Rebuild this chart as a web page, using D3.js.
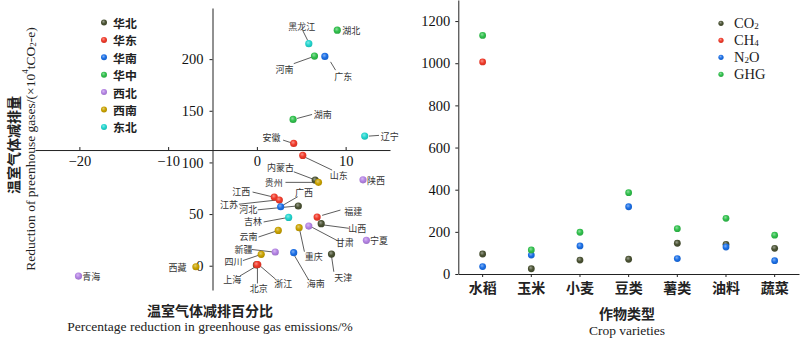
<!DOCTYPE html>
<html><head><meta charset="utf-8">
<script src="https://cdn.jsdelivr.net/npm/d3@7"></script>
<style>
body{margin:0;background:#fff;}
svg{display:block;}
.serif{font-family:"Liberation Serif","Times New Roman",serif;}
.cjk{font-family:"Noto Sans CJK SC","Noto Sans",sans-serif;}
</style></head>
<body>
<svg id="chart" width="800" height="338"></svg>
<script>
// ---------- data: left panel ----------
const regions = ["华北","华东","华南","华中","西北","西南","东北"];
const provinces = ["黑龙江","湖北","河南","广东","湖南","辽宁","安徽","山东","内蒙古","贵州","陕西","江西","江苏","广西","河北","福建","吉林","山西","甘肃","重庆","宁夏","云南","新疆","四川","海南","天津","西藏","北京","浙江","上海","青海"];
const provRegion = ["东北","华中","华中","华南","华中","东北","华东","华东","华北","西南","西北","华东","华东","华南","华北","华东","东北","华北","西北","西南","西北","西南","西北","西南","华南","华北","西南","华北","华东","华东","西北"];
const pctReduction = [5.85,9.06,6.49,7.66,4.08,12.15,4.15,5.17,6.57,6.94,11.96,1.96,2.53,2.68,4.67,6.79,3.58,7.25,5.85,4.76,12.34,2.41,2.07,0.49,4.15,8.41,-6.87,-0.05,0.1,0.0,-20.1];
const ghgReduction = [215,228,203,202.6,141.6,125.5,118.4,106.8,82.9,80.7,83.2,66.5,63.6,57.1,57.8,47.1,46.8,40.7,38.4,36.8,24.6,34.2,13.3,11.0,12.6,11.3,-1.0,0.8,1.2,1.0,-10];
const leftXTicks = [-20,-10,0,10];
const leftYTicks = [0,50,100,150,200];

// ---------- data: right panel ----------
const crops = ["水稻","玉米","小麦","豆类","薯类","油料","蔬菜"];
const gasNames = ["CO2","CH4","N2O","GHG"];
const co2 = [95,25,66,70,146,141,122];
const ch4 = [1006,null,null,null,null,null,null];
const n2o = [35,90,133,319,73,128,63];
const ghg = [1132,114,198,386,215,264,184];
const rightYTicks = [0,200,400,600,800,1000,1200];

// ---------- styles / layout ----------
const regionColors = {"华北":"#4a5233","华东":"#f03a2a","华南":"#1b6fe6","华中":"#30c04c","西北":"#b483e4","西南":"#c9a200","东北":"#22d6cf"};
const gasColors = {"CO2":"#4a5233","CH4":"#f03a2a","N2O":"#1b6fe6","GHG":"#30c04c"};
// label layout: [labelDx, labelDy, anchor, lineX1, lineY1, lineX2, lineY2] relative to point (px)
const labelLayout = {
 "黑龙江":[-7,-17,"middle",-6,-13,-1,-3],
 "湖北":[5,0.7,"start"],
 "河南":[-30,13,"middle",-20.7,7.6,-2.3,1],
 "广东":[18.4,19.7,"middle",5.7,5.4,10.7,13.7],
 "湖南":[29.6,-5.3,"middle",4,-1,19,-5],
 "辽宁":[16,0,"start",4.3,0,14.3,-0.7],
 "安徽":[-22.3,-5.6,"middle",-10.6,-3.3,-2.3,-0.6],
 "山东":[36,19.7,"middle",2.7,2,29.4,14.7],
 "内蒙古":[-34.7,-12.7,"middle",-21.4,-8.3,-1.4,-0.7],
 "贵州":[-44.7,0.4,"middle",-33,0,-1.3,0],
 "陕西":[4,0.3,"start"],
 "江西":[-33,-6,"middle",-21.7,-5,-2.3,-0.3],
 "江苏":[-50.2,4.2,"middle",-40.5,4.2,-2.3,0],
 "广西":[23.3,-14.7,"middle",17,-10,2.6,-1.7],
 "河北":[-50,3.8,"middle",-40.6,3.8,-1.6,0],
 "福建":[36,-6,"middle",5,-1.7,23.3,-7],
 "吉林":[-35.6,4.6,"middle",-25,4.6,-2.3,0.4],
 "山西":[36,5.2,"middle",2.6,1.3,27.6,4.6],
 "甘肃":[36,16.3,"middle",3.4,1.3,28.4,14.5],
 "重庆":[14.6,28.3,"middle",0.6,2.3,5.3,24],
 "宁夏":[3.6,0.4,"start"],
 "云南":[-29.7,6.2,"middle",-19.7,6.6,-2,0.7],
 "新疆":[-31.7,-2.5,"middle",-23.3,-2.5,-2.3,0],
 "四川":[-27.7,6.7,"middle",-18.3,6.2,-2,0.7],
 "海南":[22,30.6,"middle",1,3.3,15,27.3],
 "天津":[11.7,23.3,"middle",0,2,2.3,17.7],
 "西藏":[-9.3,0.6,"end"],
 "上海":[-24.6,15.3,"middle",-1.3,2,-17,11.3],
 "北京":[2.4,23.3,"middle",1,2,1,18.6],
 "浙江":[25.4,18.6,"middle",3,2,17.7,14.6],
 "青海":[3.7,0.7,"start"]
};

const svg = d3.select("#chart");
const defs = svg.append("defs");
function lighten(c,k){ return d3.interpolateRgb(c,"#ffffff")(k); }
function gradFor(key,color){
  const id = "g_"+key;
  const g = defs.append("radialGradient").attr("id",id).attr("cx","45%").attr("cy","40%").attr("r","60%").attr("fx","40%").attr("fy","35%");
  g.append("stop").attr("offset","0%").attr("stop-color",lighten(color,0.45));
  g.append("stop").attr("offset","55%").attr("stop-color",color);
  g.append("stop").attr("offset","100%").attr("stop-color",d3.color(color).darker(0.4));
  return "url(#"+id+")";
}
const regionFill = {};
regions.forEach((r,i)=>regionFill[r]=gradFor("r"+i,regionColors[r]));
const gasFill = {};
gasNames.forEach((g,i)=>gasFill[g]=gradFor("s"+i,gasColors[g]));

// ================= LEFT PANEL =================
const xL = d3.scaleLinear().domain([-25,15]).range([35,390]);
const yL = d3.scaleLinear().domain([-23.5,249.5]).range([290,8]);
const xAxisY = yL(112), yAxisX = xL(-5);
const left = svg.append("g");

const gxL = left.append("g").attr("transform",`translate(0,${xAxisY})`)
  .call(d3.axisBottom(xL).tickValues(leftXTicks).tickSize(-3).tickPadding(9).tickSizeOuter(0));
const gyL = left.append("g").attr("transform",`translate(${yAxisX},0)`)
  .call(d3.axisLeft(yL).tickValues(leftYTicks).tickSize(3).tickPadding(6).tickSizeOuter(0));
[gxL,gyL].forEach(g=>{
  g.select(".domain").attr("stroke","#222");
  g.selectAll(".tick line").attr("stroke","#222");
  g.selectAll(".tick text").attr("class","serif").attr("font-size",14.5).attr("fill","#111");
});
gxL.selectAll(".tick text").attr("dy","0.5em");

// leader lines + labels
const pts = provinces.map((p,i)=>({name:p,region:provRegion[i],x:pctReduction[i],y:ghgReduction[i]}));
const ann = left.append("g");
pts.forEach(d=>{
  const L = labelLayout[d.name]; if(!L) return;
  const px = xL(d.x), py = yL(d.y);
  if(L.length>3){
    ann.append("line").attr("x1",px+L[3]).attr("y1",py+L[4]).attr("x2",px+L[5]).attr("y2",py+L[6])
      .attr("stroke","#333").attr("stroke-width",0.8);
  }
  ann.append("text").attr("class","cjk").attr("x",px+L[0]).attr("y",py+L[1])
    .attr("text-anchor",L[2]).attr("dominant-baseline","central")
    .attr("font-size",9).attr("fill","#333").text(d.name);
});
// points
left.append("g").selectAll("circle").data(pts).join("circle")
  .attr("cx",d=>xL(d.x)).attr("cy",d=>yL(d.y)).attr("r",3.6)
  .attr("fill",d=>regionFill[d.region]);

// legend left
const legL = left.append("g");
regions.forEach((r,i)=>{
  const yy = 22.5 + i*17.4;
  legL.append("circle").attr("cx",104).attr("cy",yy).attr("r",3).attr("fill",regionFill[r]);
  legL.append("text").attr("class","cjk").attr("x",113).attr("y",yy).attr("dominant-baseline","central")
    .attr("font-size",11.9).attr("font-weight","bold").attr("fill","#222").text(r);
});

// axis titles left
left.append("text").attr("class","cjk").attr("x",210).attr("y",310).attr("text-anchor","middle")
  .attr("dominant-baseline","central").attr("font-size",14).attr("font-weight","bold").attr("fill","#222")
  .text("温室气体减排百分比");
left.append("text").attr("class","serif").attr("x",210).attr("y",326).attr("text-anchor","middle")
  .attr("dominant-baseline","central").attr("font-size",13.5).attr("fill","#222")
  .text("Percentage reduction in greenhouse gas emissions/%");
left.append("text").attr("class","cjk").attr("transform","translate(13,145) rotate(-90)")
  .attr("text-anchor","middle").attr("dominant-baseline","central")
  .attr("font-size",14).attr("font-weight","bold").attr("fill","#222").text("温室气体减排量");
const yt = left.append("text").attr("class","serif").attr("transform","translate(30,149) rotate(-90)")
  .attr("text-anchor","middle").attr("dominant-baseline","central").attr("font-size",13.5).attr("fill","#222");
yt.append("tspan").text("Reduction of preenhouse gases/(×10");
yt.append("tspan").attr("font-size",9).attr("dy",-5).text("4");
yt.append("tspan").attr("dy",5).text("tCO");
yt.append("tspan").attr("font-size",9).attr("dy",3).text("2");
yt.append("tspan").attr("dy",-3).text("-e)");

// ================= RIGHT PANEL =================
const xR = d3.scaleBand().domain(crops).range([458.3,799]).padding(0);
const yR = d3.scaleLinear().domain([0,1300]).range([274,0]);
const right = svg.append("g");
const gxR = right.append("g").attr("transform",`translate(0,${yR(0)})`)
  .call(d3.axisBottom(xR).tickSize(3).tickPadding(6).tickSizeOuter(0));
const gyR = right.append("g").attr("transform",`translate(${xR.range()[0]},0)`)
  .call(d3.axisLeft(yR).tickValues(rightYTicks).tickFormat(d3.format("d")).tickSize(3).tickPadding(5).tickSizeOuter(0));
[gxR,gyR].forEach(g=>{
  g.select(".domain").attr("stroke","#222");
  g.selectAll(".tick line").attr("stroke","#222");
});
gyR.selectAll(".tick text").attr("class","serif").attr("font-size",14.5).attr("fill","#111");
gxR.selectAll(".tick text").attr("class","cjk").attr("font-size",14).attr("font-weight","bold").attr("fill","#222");

const series = {"CO2":co2,"CH4":ch4,"N2O":n2o,"GHG":ghg};
const rpts = [];
gasNames.forEach(g=>crops.forEach((c,i)=>{ if(series[g][i]!=null) rpts.push({gas:g,crop:c,v:series[g][i]}); }));
right.append("g").selectAll("circle").data(rpts).join("circle")
  .attr("cx",d=>xR(d.crop)+xR.bandwidth()/2).attr("cy",d=>yR(d.v)).attr("r",3.4)
  .attr("fill",d=>gasFill[d.gas]);

// legend right
const legR = right.append("g");
const gasLabel = {"CO2":["CO","2",""],"CH4":["CH","4",""],"N2O":["N","2","O"],"GHG":["GHG","",""]};
gasNames.forEach((g,i)=>{
  const yy = 23.3 + i*17;
  legR.append("circle").attr("cx",721).attr("cy",yy).attr("r",2.6).attr("fill",gasFill[g]);
  const t = legR.append("text").attr("class","serif").attr("x",734).attr("y",yy).attr("dominant-baseline","central")
    .attr("font-size",14.5).attr("fill","#222");
  const parts = gasLabel[g];
  t.append("tspan").text(parts[0]);
  if(parts[1]){
    t.append("tspan").attr("font-size",9).attr("dy",3).text(parts[1]);
    if(parts[2]) t.append("tspan").attr("dy",-3).text(parts[2]);
  }
});

// axis titles right
right.append("text").attr("class","cjk").attr("x",627).attr("y",313).attr("text-anchor","middle")
  .attr("dominant-baseline","central").attr("font-size",14).attr("font-weight","bold").attr("fill","#222").text("作物类型");
right.append("text").attr("class","serif").attr("x",627).attr("y",330).attr("text-anchor","middle")
  .attr("dominant-baseline","central").attr("font-size",13.5).attr("fill","#222").text("Crop varieties");
</script>
</body></html>
